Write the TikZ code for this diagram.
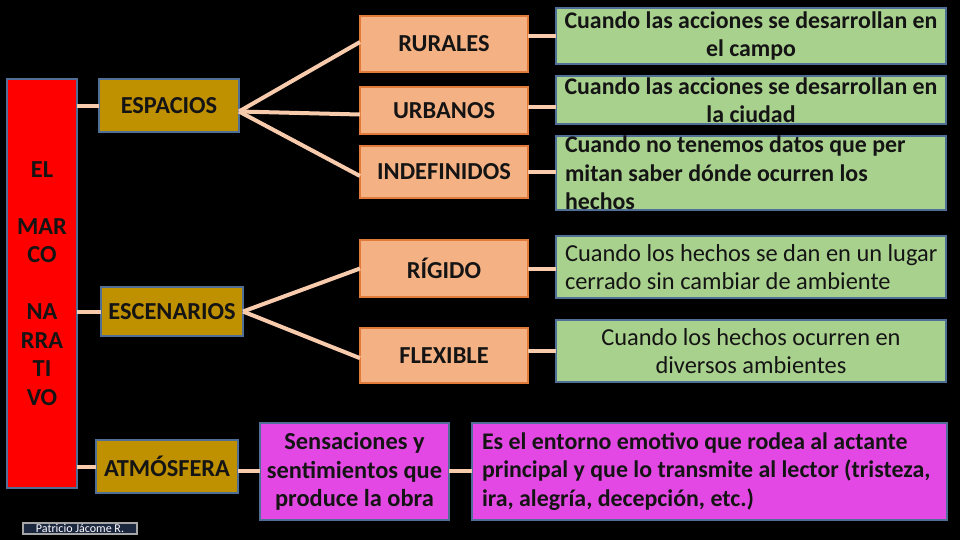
\documentclass[tikz,border=0pt]{standalone}
\usepackage{fontspec}
\setmainfont{Carlito}
\definecolor{bred}{HTML}{FF0000}
\definecolor{bgold}{HTML}{BF9000}
\definecolor{borange}{HTML}{F4B183}
\definecolor{oedge}{HTML}{E27B3A}
\definecolor{bgreen}{HTML}{A9D18E}
\definecolor{bmag}{HTML}{E448E4}
\definecolor{sedge}{HTML}{4F6F96}
\definecolor{conn}{HTML}{F8CBAD}
\definecolor{txt}{HTML}{141414}
\definecolor{navy}{HTML}{1C2740}
\tikzset{
  sz/.style 2 args={minimum width=#1*0.75pt, minimum height=#2*0.75pt},
  base/.style={inner sep=0pt, outer sep=0pt, line width=1.5pt, text=txt,
    font=\fontsize{18.3}{21.4}\selectfont\bfseries, align=center},
  plain/.style={font=\fontsize{18.3}{21.4}\selectfont},
  tighter/.style={font=\fontsize{17.9}{21.4}\selectfont\bfseries},
  leftext/.style={align=left, text width=#1*0.75pt,
    execute at begin node={\spaceskip=0pt\relax\xspaceskip=0pt\relax}},
  redbox/.style={base, fill=bred, draw=sedge},
  goldbox/.style={base, fill=bgold, draw=sedge},
  orbox/.style={base, fill=borange, draw=oedge},
  grbox/.style={base, fill=bgreen, draw=sedge},
  magbox/.style={base, fill=bmag, draw=sedge},
  link/.style={draw=conn, line width=3pt},
}
\begin{document}
\begin{tikzpicture}[x=0.75pt, y=-0.75pt]
\fill[black] (0,0) rectangle (960,540);
\useasboundingbox (0,0) rectangle (960,540);
% left column
\node[redbox, sz={70}{409}] (red) at (42,283.5) {EL\\\mbox{}\\MAR\\CO\\\mbox{}\\NA\\RRA\\TI\\VO};
\node[goldbox, sz={140}{53}] (esp) at (169,105.5) {ESPACIOS};
\node[goldbox, sz={142}{49}] (esc) at (172,311.5) {ESCENARIOS};
\node[goldbox, sz={142}{53}] (atm) at (167,466.5) {ATMÓSFERA};
% middle column
\node[orbox, sz={168}{56}] (rur) at (444,44) {RURALES};
\node[orbox, sz={168}{47}] (urb) at (444,110.5) {URBANOS};
\node[orbox, sz={168}{52}] (ind) at (444,172) {INDEFINIDOS};
\node[orbox, sz={168}{57}] (rig) at (444,268.5) {RÍGIDO};
\node[orbox, sz={168}{55}] (flx) at (444,355.5) {FLEXIBLE};
\node[magbox, sz={189}{97}] (sen) at (354.5,471.5) {Sensaciones y\\sentimientos que\\produce la obra};
% right column
\node[grbox, tighter, sz={390}{56}] (g1) at (751,36) {Cuando las acciones se desarrollan en\\el campo};
\node[grbox, tighter, sz={390}{48}] (g2) at (751,100) {Cuando las acciones se desarrollan en\\la ciudad};
\node[grbox, tighter, sz={390}{74}, leftext=372] (g3) at (751,173) {\mbox{Cuando no tenemos datos que per}\\\mbox{mitan saber dónde ocurren los}\\\mbox{hechos}};
\node[grbox, plain, sz={390}{62}, leftext=372] (g4) at (751,267) {\mbox{Cuando los hechos se dan en un lugar}\\\mbox{cerrado sin cambiar de ambiente}};
\node[grbox, plain, sz={390}{62}] (g5) at (751,351) {Cuando los hechos ocurren en\\diversos ambientes};
\node[magbox, tighter, sz={475}{97}, leftext=455] (es) at (709.5,471.5) {\mbox{Es el entorno emotivo que rodea al actante}\\\mbox{principal y que lo transmite al lector (tristeza,}\\\mbox{ira, alegría, decepción, etc.)}};
% author tag
\node[sz={114}{11}, inner sep=0pt, fill=navy, draw=gray!70, line width=0.8pt,
  text=white, font=\fontsize{9}{9}\selectfont] (pat) at (80,528.5) {Patricio Jácome R.};
% connectors
\draw[link] (red.east |- esp.west) -- (esp.west);
\draw[link] (red.east |- esc.west) -- (esc.west);
\draw[link] (red.east |- atm.west) -- (atm.west);
\draw[link] ([yshift=-4.5pt]esp.east) -- ([yshift=1.5pt]rur.west);
\draw[link] ([yshift=-4.5pt]esp.east) -- ([yshift=-3pt]urb.west);
\draw[link] ([yshift=-4.5pt]esp.east) -- ([yshift=-3pt]ind.west);
\draw[link] (esc.east) -- (rig.west);
\draw[link] (esc.east) -- ([yshift=-2pt]flx.west);
\draw[link] (rur.east |- g1.west) -- (g1.west);
\draw[link] ([yshift=3pt]urb.east) -- ([yshift=3pt]urb.east -| g2.west);
\draw[link] (ind.east) -- (ind.east -| g3.west);
\draw[link] (rig.east) -- (rig.east -| g4.west);
\draw[link] (flx.east |- g5.west) -- (g5.west);
\draw[link] ([yshift=-3pt]atm.east) -- ([yshift=-3pt]atm.east -| sen.west);
\draw[link] ([yshift=-3pt]sen.east |- atm.east) -- ([yshift=-3pt]es.west |- atm.east);
\end{tikzpicture}
\end{document}
